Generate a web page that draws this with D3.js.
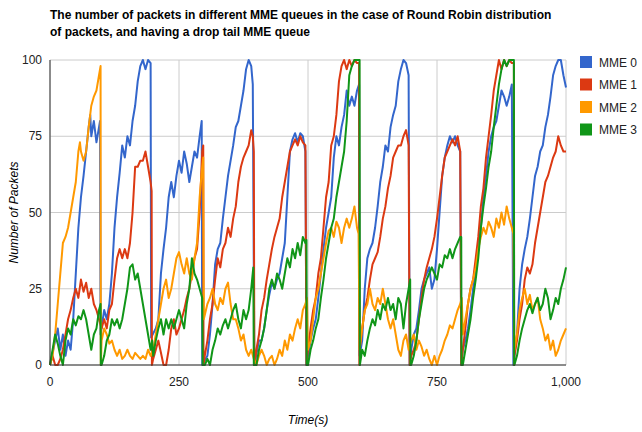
<!DOCTYPE html>
<html><head><meta charset="utf-8">
<script src="https://cdn.jsdelivr.net/npm/d3@7"></script>
<style>body{margin:0;background:#fff;font-family:"Liberation Sans",Arial,sans-serif}</style>
</head><body><svg id="c" width="642" height="432"></svg>
<script>
const titleLines = ["The number of packets in different MME queues in the case of Round Robin distribution", "of packets, and having a drop tail MME queue"];
const seriesNames = ["MME 0", "MME 1", "MME 2", "MME 3"];
const colors = ["#3366cc", "#dc3912", "#ff9900", "#109618"];
const xTicks = [0, 250, 500, 750, 1000];
const yTicks = [0, 25, 50, 75, 100];

// [time, packets] pairs
const mme0 = [[0,0],[10,8],[15,12],[20,5],[25,10],[30,3],[35,8],[40,5],[45,15],[50,30],[55,45],[60,55],[65,62],[70,70],[75,78],[78,82],[80,75],[85,80],[90,73],[95,78],[97,80],[98,10],[105,18],[110,15],[115,20],[120,30],[125,45],[130,55],[135,63],[140,72],[145,68],[150,75],[155,72],[160,80],[165,85],[170,93],[175,98],[180,100],[185,97],[190,100],[195,99],[196,9],[205,12],[210,15],[215,30],[220,38],[225,45],[230,55],[235,60],[240,55],[245,62],[250,67],[255,63],[260,70],[265,66],[270,60],[275,65],[280,70],[285,68],[290,75],[294,80],[295,0],[305,3],[310,10],[315,20],[320,33],[325,38],[330,40],[335,48],[340,55],[345,62],[350,67],[355,72],[360,78],[365,80],[370,85],[375,90],[380,97],[385,100],[390,98],[393,92],[396,0],[405,8],[410,8],[415,12],[420,18],[425,23],[430,27],[435,25],[440,28],[445,30],[450,35],[455,40],[460,55],[465,70],[470,74],[475,76],[480,73],[485,76],[490,75],[495,70],[497,0],[505,8],[510,12],[515,15],[520,22],[525,30],[530,38],[535,45],[540,50],[545,55],[550,68],[555,75],[560,72],[565,78],[570,82],[575,90],[580,85],[585,88],[590,85],[595,90],[599,92],[600,3],[605,8],[610,25],[615,35],[620,38],[625,40],[630,45],[635,52],[640,60],[645,65],[650,72],[655,70],[660,78],[665,82],[670,85],[675,93],[680,97],[685,100],[690,99],[695,95],[697,0],[700,5],[705,10],[710,12],[715,18],[720,25],[725,28],[730,30],[735,32],[740,25],[745,28],[750,38],[755,50],[760,62],[765,68],[770,72],[775,75],[780,73],[785,75],[790,72],[795,70],[797,0],[800,5],[805,8],[810,12],[815,18],[820,25],[825,30],[830,38],[835,45],[840,55],[845,62],[850,70],[855,75],[860,78],[865,80],[870,85],[875,90],[880,88],[885,85],[890,88],[895,92],[898,0],[900,3],[905,10],[910,25],[915,33],[920,38],[925,42],[930,48],[935,55],[940,62],[945,65],[950,70],[955,72],[960,78],[965,82],[970,88],[975,95],[980,98],[985,100],[990,100],[995,95],[1000,91]];
const mme1 = [[0,0],[5,3],[10,0],[15,0],[20,2],[25,5],[30,10],[35,15],[40,18],[45,22],[50,25],[55,22],[60,28],[65,24],[70,27],[75,22],[80,25],[85,20],[90,18],[95,15],[100,12],[105,15],[110,12],[115,18],[120,20],[125,28],[130,35],[135,38],[140,35],[145,38],[150,35],[155,40],[160,50],[165,65],[170,65],[175,67],[180,67],[185,70],[190,65],[195,60],[197,57],[197.5,0],[200,2],[205,5],[210,8],[215,4],[220,0],[225,0],[230,5],[235,12],[240,15],[245,10],[250,12],[255,15],[260,18],[265,22],[270,25],[275,30],[280,35],[285,38],[290,50],[295,70],[297,72],[297.5,0],[300,3],[305,8],[310,15],[315,20],[320,28],[325,35],[330,32],[335,38],[340,40],[345,45],[350,42],[355,48],[360,52],[365,60],[370,65],[375,68],[380,70],[385,72],[390,77],[393,75],[395,70],[396,0],[400,5],[405,10],[410,18],[415,22],[420,28],[425,33],[430,38],[435,42],[440,45],[445,48],[450,55],[455,60],[460,65],[465,70],[470,72],[475,74],[480,72],[485,75],[490,73],[495,72],[497,0],[500,5],[505,12],[510,18],[515,22],[520,30],[525,35],[530,45],[535,55],[540,60],[545,72],[550,75],[555,82],[560,93],[565,98],[570,100],[575,97],[580,100],[585,98],[590,100],[595,99],[599,99],[599.5,0],[600,5],[605,12],[610,18],[615,22],[620,28],[625,33],[630,35],[635,37],[640,42],[645,48],[650,52],[655,58],[660,62],[665,68],[670,70],[675,72],[680,72],[685,75],[690,77],[695,72],[697,0],[700,3],[705,5],[710,8],[715,15],[720,22],[725,28],[730,32],[735,35],[740,38],[745,42],[750,48],[755,55],[760,62],[765,68],[770,70],[775,72],[780,74],[785,72],[790,75],[795,70],[797,0],[800,5],[805,12],[810,20],[815,25],[820,28],[825,35],[830,42],[835,52],[840,58],[845,68],[850,75],[855,82],[860,90],[865,95],[870,100],[875,97],[880,100],[885,98],[890,100],[895,99],[899,99],[899.5,0],[900,3],[905,8],[910,15],[915,20],[920,28],[925,32],[930,30],[935,33],[940,40],[945,45],[950,50],[955,55],[960,60],[965,62],[970,65],[975,68],[980,70],[985,75],[990,72],[995,70],[1000,70]];
const mme2 = [[0,0],[5,3],[10,10],[15,20],[20,30],[25,40],[30,42],[35,45],[40,50],[45,55],[50,60],[55,70],[58,73],[60,70],[65,67],[70,70],[75,78],[80,85],[85,88],[90,90],[95,95],[98,98],[98.5,0],[100,8],[105,12],[110,10],[115,7],[120,8],[125,5],[130,3],[135,5],[140,2],[145,3],[150,5],[155,3],[160,2],[165,4],[170,3],[175,2],[180,3],[185,2],[190,5],[195,3],[200,5],[205,10],[210,15],[215,20],[220,25],[225,28],[230,22],[235,25],[240,30],[245,35],[250,37],[255,33],[260,30],[265,35],[270,30],[275,28],[280,35],[285,40],[290,55],[295,65],[297,68],[298,15],[305,20],[310,22],[315,25],[320,20],[325,18],[330,22],[335,20],[340,25],[345,27],[350,20],[355,15],[360,15],[365,12],[370,8],[375,10],[380,5],[385,3],[390,5],[395,2],[400,0],[405,3],[410,5],[415,3],[420,0],[425,2],[430,3],[435,0],[440,2],[445,5],[450,3],[455,8],[460,5],[465,10],[470,8],[475,12],[480,15],[485,12],[490,18],[495,20],[498,22],[500,5],[505,8],[510,15],[515,22],[520,25],[525,30],[530,35],[535,40],[540,44],[545,45],[550,42],[555,47],[560,45],[565,40],[570,45],[575,48],[580,45],[585,48],[590,52],[595,45],[598,43],[600,5],[605,12],[610,18],[615,20],[620,25],[625,20],[630,18],[635,22],[640,20],[645,25],[650,20],[655,15],[660,12],[665,15],[670,10],[675,5],[680,3],[685,8],[690,10],[695,5],[700,8],[705,10],[710,5],[715,8],[720,6],[725,3],[730,5],[735,2],[740,0],[745,3],[750,0],[755,3],[760,5],[765,8],[770,10],[775,13],[780,12],[785,15],[790,18],[795,20],[798,22],[800,10],[805,15],[810,20],[815,25],[820,28],[825,32],[830,38],[835,42],[840,45],[845,43],[850,47],[855,45],[860,42],[865,48],[870,45],[875,50],[880,46],[885,52],[890,48],[895,45],[898,43],[900,5],[905,10],[910,18],[915,22],[920,25],[925,20],[930,23],[935,18],[940,20],[945,22],[950,15],[955,12],[960,8],[965,10],[970,5],[975,8],[980,3],[985,5],[990,8],[995,10],[1000,12]];
const mme3 = [[0,0],[5,5],[10,10],[15,7],[20,3],[25,0],[30,8],[35,12],[40,10],[45,15],[50,13],[55,16],[60,15],[65,18],[70,15],[75,10],[80,5],[85,10],[90,12],[95,18],[98,20],[98.5,0],[100,0],[105,3],[110,8],[115,10],[120,15],[125,13],[130,15],[135,12],[140,15],[145,20],[150,25],[155,32],[160,33],[165,28],[170,30],[175,25],[180,20],[185,15],[190,10],[195,5],[198,8],[200,3],[205,8],[210,12],[215,15],[220,10],[225,15],[230,12],[235,15],[240,12],[245,15],[250,18],[255,15],[260,12],[265,20],[270,25],[275,35],[280,30],[285,28],[290,25],[295,22],[296,0],[300,0],[305,2],[310,0],[315,5],[320,8],[325,12],[330,10],[335,13],[340,15],[345,12],[350,15],[355,18],[360,20],[365,15],[370,12],[375,18],[380,15],[385,18],[390,25],[394,32],[395,0],[400,0],[405,5],[410,8],[415,12],[420,18],[425,25],[430,28],[435,25],[440,30],[445,28],[450,25],[455,30],[460,35],[465,32],[470,38],[475,35],[480,40],[485,36],[490,42],[495,40],[497,41],[497.5,0],[500,0],[505,5],[510,8],[515,12],[520,15],[525,22],[530,28],[535,35],[540,40],[545,45],[550,48],[555,55],[560,60],[565,65],[570,70],[575,80],[580,95],[585,98],[590,100],[595,100],[600,100],[600.5,0],[605,5],[610,3],[615,8],[620,12],[625,15],[630,13],[635,18],[640,15],[645,20],[650,18],[655,22],[660,18],[665,20],[670,15],[675,22],[680,20],[685,12],[690,20],[695,25],[698,28],[698.5,0],[700,0],[705,3],[710,8],[715,15],[720,20],[725,25],[730,28],[735,30],[740,32],[745,30],[750,28],[755,33],[760,32],[765,36],[770,35],[775,38],[780,35],[785,38],[790,40],[795,42],[797,42],[797.5,0],[800,0],[805,5],[810,10],[815,15],[820,22],[825,28],[830,35],[835,45],[840,52],[845,58],[850,65],[855,70],[860,78],[865,85],[870,92],[875,97],[880,100],[885,98],[890,100],[895,100],[899,100],[899.5,0],[900,0],[905,3],[910,8],[915,12],[920,15],[925,18],[930,20],[935,17],[940,20],[945,22],[950,18],[955,20],[960,25],[965,22],[970,15],[975,18],[980,22],[985,20],[990,25],[995,28],[1000,32]];
const allSeries = [mme0, mme1, mme2, mme3];

const svg = d3.select("#c");
const margin = {left: 50, top: 60, right: 76, bottom: 67};
const W = 642, H = 432;
const x = d3.scaleLinear().domain([0, 1000]).range([margin.left, W - margin.right]);
const y = d3.scaleLinear().domain([0, 100]).range([H - margin.bottom, margin.top]);

// title
svg.selectAll("text.title").data(titleLines).enter().append("text")
  .attr("x", 50).attr("y", (d, i) => 19 + i * 17)
  .attr("font-size", 12).attr("font-weight", "bold").text(d => d);

// grid
const grid = svg.append("g");
grid.selectAll("line.h").data(yTicks).enter().append("line")
  .attr("x1", x(0)).attr("x2", x(1000)).attr("y1", d => y(d)).attr("y2", d => y(d))
  .attr("stroke", "#cccccc");
grid.selectAll("line.v").data(xTicks).enter().append("line")
  .attr("y1", y(0)).attr("y2", y(100)).attr("x1", d => x(d)).attr("x2", d => x(d))
  .attr("stroke", "#cccccc");

// lines
const line = d3.line().x(d => x(d[0])).y(d => y(d[1]));
svg.append("g").selectAll("path").data(allSeries).enter().append("path")
  .attr("d", line).attr("fill", "none")
  .attr("stroke", (d, i) => colors[i]).attr("stroke-width", 2).attr("stroke-linejoin", "round");

// baseline axes
svg.append("line").attr("x1", x(0)).attr("x2", x(1000)).attr("y1", y(0)).attr("y2", y(0)).attr("stroke", "#333");
svg.append("line").attr("x1", x(0)).attr("x2", x(0)).attr("y1", y(0)).attr("y2", y(100)).attr("stroke", "#333");

const fmt = d3.format(",");
svg.selectAll("text.yt").data(yTicks).enter().append("text")
  .attr("x", x(0) - 8).attr("y", d => y(d) + 4).attr("text-anchor", "end")
  .attr("font-size", 12).attr("fill", "#222").text(d => d);
svg.selectAll("text.xt").data(xTicks).enter().append("text")
  .attr("x", d => x(d)).attr("y", y(0) + 21).attr("text-anchor", "middle")
  .attr("font-size", 12).attr("fill", "#222").text(d => fmt(d));

svg.append("text").attr("x", (x(0) + x(1000)) / 2).attr("y", 424).attr("text-anchor", "middle")
  .attr("font-size", 12).attr("font-style", "italic").text("Time(s)");
svg.append("text").attr("transform", `translate(18,${(y(0) + y(100)) / 2}) rotate(-90)`)
  .attr("text-anchor", "middle").attr("font-size", 12).attr("font-style", "italic").text("Number of Packets");

// legend
const lg = svg.append("g").selectAll("g").data(seriesNames).enter().append("g")
  .attr("transform", (d, i) => `translate(580,${56 + i * 22.5})`);
lg.append("rect").attr("width", 12).attr("height", 12).attr("fill", (d, i) => colors[i]);
lg.append("text").attr("x", 19).attr("y", 10.5).attr("font-size", 12).attr("fill", "#222").text(d => d);
</script></body></html>
